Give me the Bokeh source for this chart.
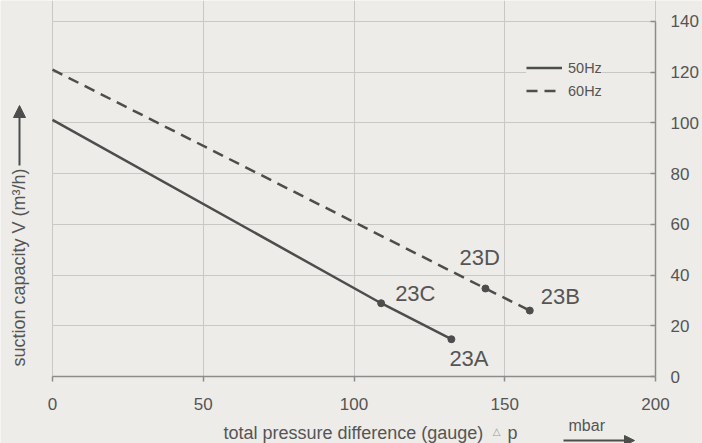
import math
from bokeh.plotting import figure
from bokeh.models import (Range1d, FixedTicker, Label, Arrow, NormalHead, Legend, LegendItem)
from bokeh.embed import file_html
from bokeh.resources import INLINE

# ---- data ----
x_50hz = [0, 109.0, 132.3]
y_50hz = [101.2, 28.9, 14.7]
x_60hz = [0, 143.6, 158.3]
y_60hz = [121.0, 34.7, 26.0]

point_names = ["23C", "23A", "23D", "23B"]
point_x = [109.0, 132.3, 143.6, 158.3]
point_y = [28.9, 14.7, 34.7, 26.0]

x_ticks = [0, 50, 100, 150, 200]
y_ticks = [0, 20, 40, 60, 80, 100, 120, 140]

series_names = ["50Hz", "60Hz"]
x_title = "total pressure difference (gauge)"
y_title = "suction capacity V (m\u00b3/h)"
unit_text = "mbar"

FONT = "Liberation Sans"
BG = "#edece8"
INK = "#4d4d4d"
TXT = "#555555"
AX = "#8c8c8c"
GRID = "#c9c8c4"

W, H = 702, 443
# frame covers the whole canvas; axes are drawn at fixed locations
x_lo, x_hi = -17.25, 215.59
y_lo, y_hi = -26.42, 148.28

p = figure(width=W, height=H, output_backend="svg", toolbar_location=None,
           x_range=Range1d(x_lo, x_hi), y_range=Range1d(y_lo, y_hi),
           y_axis_location="right", min_border=0)
p.background_fill_color = BG
p.border_fill_color = BG
p.outline_line_color = None

# axes
xa = p.xaxis[0]
xa.fixed_location = 0
xa.ticker = FixedTicker(ticks=x_ticks)
xa.bounds = (0, 200)
xa.axis_line_color = AX
xa.axis_line_width = 1.5
xa.major_tick_line_color = AX
xa.major_tick_line_width = 1.5
xa.major_tick_in = 0
xa.major_tick_out = 5
xa.minor_tick_line_color = None
xa.major_label_standoff = 16
xa.major_label_text_font = FONT
xa.major_label_text_font_size = "17px"
xa.major_label_text_color = TXT

ya = p.yaxis[0]
ya.fixed_location = 200
ya.ticker = FixedTicker(ticks=y_ticks)
ya.bounds = (0, 140)
ya.axis_line_color = AX
ya.axis_line_width = 1.5
ya.major_tick_line_color = AX
ya.major_tick_line_width = 1.5
ya.major_tick_in = 5
ya.major_tick_out = 0
ya.minor_tick_line_color = None
ya.major_label_standoff = 15
ya.major_label_text_font = FONT
ya.major_label_text_font_size = "17px"
ya.major_label_text_color = TXT

p.xgrid.ticker = FixedTicker(ticks=x_ticks)
p.ygrid.ticker = FixedTicker(ticks=y_ticks)
p.xgrid.bounds = (0, 200)
p.ygrid.bounds = (0, 140)
p.xgrid.cross_bounds = (0, y_hi)
p.ygrid.cross_bounds = (0, 200)
p.grid.grid_line_color = GRID
p.grid.grid_line_width = 1

# lines
r50 = p.line(x_50hz, y_50hz, line_color=INK, line_width=2.5)
r60 = p.line(x_60hz, y_60hz, line_color=INK, line_width=2.5, line_dash="11 7")
p.scatter(point_x, point_y, size=7, color=INK)

legend = Legend(items=[LegendItem(label=series_names[0], renderers=[r50]),
                       LegendItem(label=series_names[1], renderers=[r60])],
                location=(526, 344), orientation="vertical",
                background_fill_color=BG, background_fill_alpha=1.0,
                border_line_color=None, padding=6, spacing=6, margin=0,
                glyph_width=36, glyph_height=17, label_height=17, label_standoff=6,
                label_text_font=FONT, label_text_font_size="14.5px", label_text_color=TXT)
p.add_layout(legend, "center")

# point labels
offsets = [(14, 10), (-2, -19), (-26, 31), (11, 14)]
for name, px, py, (dx, dy) in zip(point_names, point_x, point_y, offsets):
    p.add_layout(Label(x=px, y=py, x_offset=dx, y_offset=dy, text=name,
                       text_font=FONT, text_font_size="22px", text_color=TXT,
                       text_align="left", text_baseline="middle"))

# axis titles (screen units, canvas = frame, y from bottom)
p.add_layout(Label(x=223, y=H - 432, x_units="screen", y_units="screen", text=x_title,
                   text_font=FONT, text_font_size="18px", text_color=TXT,
                   text_align="left", text_baseline="middle"))
p.add_layout(Label(x=496, y=H - 431, x_units="screen", y_units="screen", text="\u25b3",
                   text_font="DejaVu Sans", text_font_size="10px", text_color="#9a9a9a",
                   text_align="center", text_baseline="middle"))
p.add_layout(Label(x=507, y=H - 432, x_units="screen", y_units="screen", text="p",
                   text_font=FONT, text_font_size="18px", text_color=TXT,
                   text_align="left", text_baseline="middle"))
p.add_layout(Label(x=568, y=H - 425, x_units="screen", y_units="screen", text=unit_text,
                   text_font=FONT, text_font_size="16px", text_color=TXT,
                   text_align="left", text_baseline="middle"))
p.add_layout(Arrow(x_start=563, y_start=H - 440, x_end=634, y_end=H - 440,
                   start_units="screen", end_units="screen",
                   line_color=INK, line_width=2,
                   end=NormalHead(size=10, fill_color=INK, line_color=INK)))

p.add_layout(Label(x=18, y=H - 267, x_units="screen", y_units="screen", text=y_title,
                   angle=math.pi / 2,
                   text_font=FONT, text_font_size="18px", text_color=TXT,
                   text_align="center", text_baseline="middle"))
p.add_layout(Arrow(x_start=19, y_start=H - 165, x_end=19, y_end=H - 105,
                   start_units="screen", end_units="screen",
                   line_color=INK, line_width=2,
                   end=NormalHead(size=12, fill_color=INK, line_color=INK)))

open("out.html", "w").write(file_html(p, INLINE))
